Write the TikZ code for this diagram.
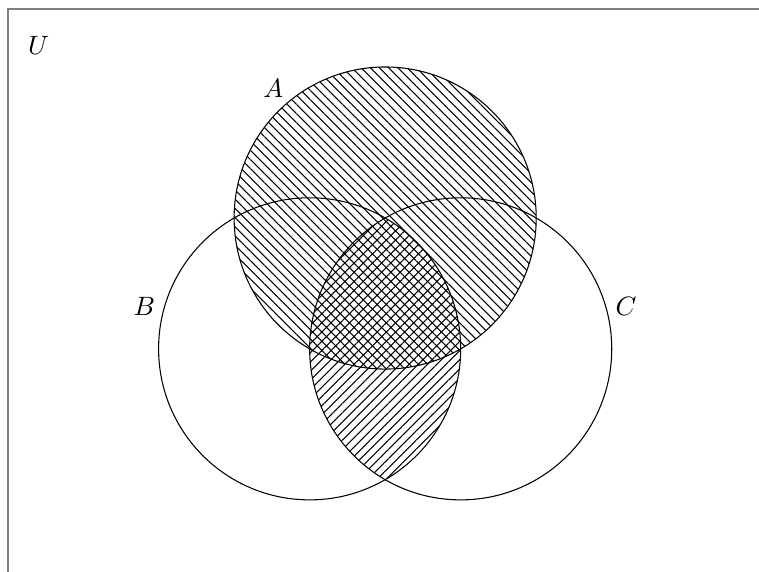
\documentclass[tikz,border=0pt]{standalone}
\usetikzlibrary{patterns.meta}
\begin{document}
\begin{tikzpicture}[
    universe/.style={draw=gray, line width=0.8pt},
    setline/.style={draw=black, line width=0.4pt},
    hatchA/.style={pattern={Lines[angle=-45, distance=2.45pt, line width=0.4pt]}},
    hatchBC/.style={pattern={Lines[angle=45, distance=2.45pt, line width=0.4pt]}},
    setlabel/.style={inner sep=0pt}
  ]
  \useasboundingbox (-5.1,-4.676) rectangle (4.95,2.887);
  \clip (-5.1,-4.676) rectangle (4.95,2.887);
  \coordinate (ca) at (0,0);
  \coordinate (cb) at (-1,-1.732);
  \coordinate (cc) at (1,-1.732);
  \draw[universe] (-4.99,-6) rectangle (6,2.77);
  \fill[hatchA] (ca) circle (2);
  \begin{scope}
    \clip (cb) circle (2);
    \fill[hatchBC] (cc) circle (2);
  \end{scope}
  \draw[setline] (ca) circle (2);
  \draw[setline] (cb) circle (2);
  \draw[setline] (cc) circle (2);
  \node[setlabel] (labu) at (-4.59,2.29) {$U$};
  \node[setlabel] (laba) at (-1.48,1.72) {$A$};
  \node[setlabel] (labb) at (-3.19,-1.17) {$B$};
  \node[setlabel] (labc) at (3.19,-1.17) {$C$};
\end{tikzpicture}
\end{document}
